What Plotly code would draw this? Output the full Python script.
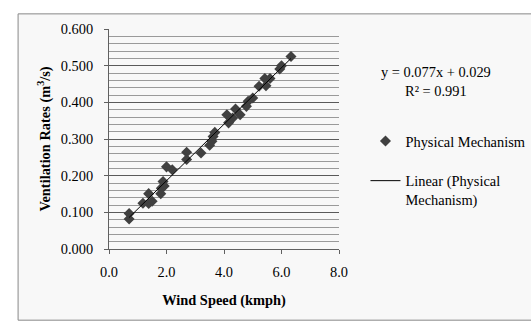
import numpy as np
import plotly.graph_objects as go

wind_speed = [0.70, 0.70, 1.18, 1.38, 1.38, 1.50, 1.80, 1.82, 1.88, 1.92, 2.00, 2.20,
              2.70, 2.70, 3.20, 3.50, 3.58, 3.62, 3.68, 4.10, 4.16, 4.30, 4.40, 4.56,
              4.78, 4.84, 5.00, 5.22, 5.42, 5.46, 5.60, 5.94, 6.00, 6.33]
vent_rate = [0.082, 0.097, 0.125, 0.151, 0.124, 0.130, 0.151, 0.166, 0.184, 0.172, 0.224, 0.216,
             0.264, 0.244, 0.262, 0.283, 0.294, 0.307, 0.318, 0.366, 0.344, 0.357, 0.382, 0.366,
             0.389, 0.403, 0.412, 0.444, 0.465, 0.445, 0.465, 0.491, 0.500, 0.525]
x_ticks = [0, 2, 4, 6, 8]
y_ticks = [0.0, 0.1, 0.2, 0.3, 0.4, 0.5, 0.6]
equation_text = "y = 0.077x + 0.029<br>R² = 0.991"

slope, intercept = np.polyfit(wind_speed, vent_rate, 1)
fit_x = [min(wind_speed), max(wind_speed)]
fit_y = [slope * v + intercept for v in fit_x]

FONT = "Liberation Serif"
FS = 14.4

fig = go.Figure()
fig.add_trace(go.Scatter(
    x=wind_speed, y=vent_rate, mode="markers", name="Physical Mechanism",
    legendgroup="a",
    marker=dict(symbol="diamond", size=8.5, color="#404040"),
))
fig.add_trace(go.Scatter(
    x=fit_x, y=fit_y, mode="lines", name="Linear (Physical<br>Mechanism)",
    legendgroup="b",
    line=dict(color="#000000", width=1),
))

W, H = 531, 322
L, R, T, B = 109.3, 339.5, 28.5, 249.5
pw, ph = R - L, B - T

def px(xp):
    return (xp - L) / pw

def py(yp):
    return (B - yp) / ph

fig.update_layout(
    width=W, height=H,
    margin=dict(l=L, r=W - R, t=T, b=H - B, pad=0, autoexpand=False),
    paper_bgcolor="#ffffff",
    plot_bgcolor="#f8f8f8",
    font=dict(family=FONT, size=FS, color="#000000"),
    showlegend=True,
    legend=dict(
        x=px(366), y=py(125), xanchor="left", yanchor="top",
        bgcolor="rgba(0,0,0,0)", borderwidth=0,
        traceorder="grouped", tracegroupgap=18, valign="top",
        font=dict(family=FONT, size=FS),
    ),
    shapes=[dict(
        type="rect", xref="paper", yref="paper", layer="below",
        x0=px(18.3), x1=px(540), y0=py(321), y1=py(13.3),
        fillcolor="#f8f8f8", line=dict(color="#888888", width=1),
    )],
    annotations=[dict(
        xref="paper", yref="paper", x=px(437), y=py(81.5),
        xanchor="center", yanchor="middle", align="center",
        text=equation_text, showarrow=False,
        font=dict(family=FONT, size=FS),
    )],
)

fig.update_xaxes(
    range=[0, 8], tickvals=x_ticks, ticktext=[f"{v:.1f}" for v in x_ticks],
    showgrid=False, zeroline=False,
    showline=True, linecolor="#606060", linewidth=1,
    ticks="outside", ticklen=4, tickcolor="#606060", ticklabelstandoff=6,
    title=dict(text="<b>Wind Speed (kmph)</b>", standoff=15, font=dict(size=FS)),
    automargin=False,
)
fig.update_yaxes(
    range=[0, 0.6], tickvals=y_ticks, ticktext=[f"{v:.3f}" for v in y_ticks],
    showgrid=True, gridcolor="#5a5a5a", gridwidth=1,
    minor=dict(dtick=0.02, tick0=0, showgrid=True, gridcolor="#9a9a9a", gridwidth=1, ticks=""),
    zeroline=False,
    showline=True, linecolor="#606060", linewidth=1,
    ticks="outside", ticklen=4, tickcolor="#606060", ticklabelstandoff=8,
    title=dict(text="<b>Ventilation Rates (m<sup>3</sup>/s)</b>", standoff=6, font=dict(size=FS)),
    automargin=False,
)

fig.write_html("out.html")
